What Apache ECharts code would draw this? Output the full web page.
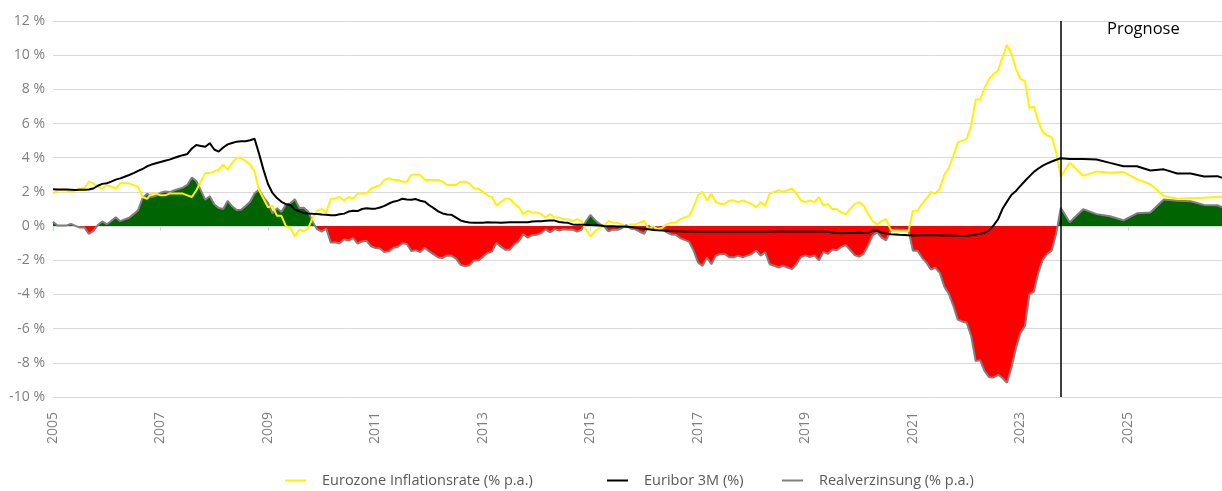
<!DOCTYPE html>
<html>
<head>
<meta charset="utf-8">
<title>Realverzinsung Eurozone</title>
<script src="https://cdn.jsdelivr.net/npm/echarts@6/dist/echarts.min.js"></script>
<style>
  html, body { margin: 0; padding: 0; background: #fff; }
  #chart { width: 1222px; height: 491px; }
</style>
</head>
<body>
<div id="chart"></div>
<script>
// Monate Jan 2005 .. Okt 2026 (ab Nov 2023 Prognose, quartalsweise)
var months = []
for (var y = 2005; y <= 2026; y++) {
  for (var m = 1; m <= 12; m++) {
    if (y === 2026 && m > 10) break
    months.push(y + '-' + (m < 10 ? '0' + m : m))
  }
}

var prognoseStart = '2023-10'

// Eurozone Inflationsrate (% p.a.)
var inflation = [
  1.9, 2.1, 2.1, 2.1, 2.0, 2.1, 2.2, 2.2, 2.6, 2.5, 2.3, 2.2,
  2.4, 2.3, 2.2, 2.5, 2.5, 2.5, 2.4, 2.3, 1.7, 1.6, 1.9, 1.9,
  1.8, 1.8, 1.9, 1.9, 1.9, 1.9, 1.8, 1.7, 2.1, 2.6, 3.1, 3.1,
  3.2, 3.3, 3.6, 3.3, 3.7, 4.0, 4.0, 3.8, 3.6, 3.2, 2.1, 1.6,
  1.1, 1.2, 0.6, 0.6, 0.0, -0.1, -0.6, -0.2, -0.3, -0.1, 0.5, 0.9,
  1.0, 0.8, 1.6, 1.6, 1.7, 1.5, 1.7, 1.6, 1.9, 1.9, 1.9, 2.2,
  2.3, 2.4, 2.7, 2.8, 2.7, 2.7, 2.6, 2.6, 3.0, 3.0, 3.0, 2.7,
  2.7, 2.7, 2.7, 2.6, 2.4, 2.4, 2.4, 2.6, 2.6, 2.5, 2.2, 2.2,
  2.0, 1.8, 1.7, 1.2, 1.4, 1.6, 1.6, 1.3, 1.1, 0.7, 0.9, 0.8,
  0.8, 0.7, 0.5, 0.7, 0.5, 0.5, 0.4, 0.4, 0.3, 0.4, 0.3, -0.2,
  -0.6, -0.3, -0.1, 0.0, 0.3, 0.2, 0.2, 0.1, -0.1, 0.1, 0.1, 0.2,
  0.3, -0.2, 0.0, -0.2, -0.1, 0.1, 0.2, 0.2, 0.4, 0.5, 0.6, 1.1,
  1.8, 2.0, 1.5, 1.9, 1.4, 1.3, 1.3, 1.5, 1.5, 1.4, 1.5, 1.4,
  1.3, 1.1, 1.4, 1.2, 1.9, 2.0, 2.1, 2.0, 2.1, 2.2, 1.9, 1.5,
  1.4, 1.5, 1.4, 1.7, 1.2, 1.3, 1.0, 1.0, 0.8, 0.7, 1.0, 1.3,
  1.4, 1.2, 0.7, 0.3, 0.1, 0.3, 0.4, -0.2, -0.3, -0.3, -0.3, -0.3,
  0.9, 0.9, 1.3, 1.6, 2.0, 1.9, 2.2, 3.0, 3.4, 4.1, 4.9, 5.0,
  5.1, 5.9, 7.4, 7.4, 8.1, 8.6, 8.9, 9.1, 9.9, 10.6, 10.1, 9.2,
  8.6, 8.5, 6.9, 7.0, 6.1, 5.5, 5.3, 5.2, 4.3, 2.9, null, 3.7,
  null, null, 2.94, null, null, 3.2, null, null, 3.12, null, null, 3.16,
  null, null, 2.75, null, null, 2.45, null, null, 1.76, null, null, 1.6,
  null, null, 1.63, null, null, 1.66, null, null, 1.7, 1.71
]

// Euribor 3M (%)
var euribor = [
  2.15, 2.14, 2.14, 2.14, 2.13, 2.11, 2.12, 2.13, 2.14, 2.20, 2.36, 2.47,
  2.51, 2.60, 2.72, 2.79, 2.89, 2.99, 3.10, 3.23, 3.34, 3.50, 3.60, 3.68,
  3.75, 3.82, 3.89, 3.98, 4.07, 4.15, 4.22, 4.54, 4.74, 4.69, 4.64, 4.85,
  4.48, 4.36, 4.60, 4.78, 4.86, 4.94, 4.96, 4.97, 5.02, 5.11, 4.24, 3.29,
  2.46, 1.94, 1.64, 1.42, 1.28, 1.23, 0.97, 0.86, 0.77, 0.74, 0.72, 0.71,
  0.68, 0.66, 0.64, 0.64, 0.69, 0.73, 0.85, 0.90, 0.88, 1.00, 1.04, 1.02,
  1.02, 1.09, 1.18, 1.32, 1.43, 1.49, 1.60, 1.55, 1.54, 1.58, 1.48, 1.43,
  1.22, 1.05, 0.86, 0.74, 0.68, 0.66, 0.50, 0.33, 0.25, 0.21, 0.19, 0.19,
  0.20, 0.22, 0.21, 0.21, 0.20, 0.21, 0.22, 0.23, 0.22, 0.23, 0.22, 0.27,
  0.29, 0.29, 0.31, 0.33, 0.32, 0.24, 0.21, 0.19, 0.10, 0.08, 0.08, 0.08,
  0.06, 0.05, 0.03, 0.00, -0.01, -0.01, -0.02, -0.03, -0.04, -0.05, -0.09, -0.13,
  -0.15, -0.18, -0.23, -0.25, -0.26, -0.27, -0.29, -0.30, -0.30, -0.31, -0.31, -0.32,
  -0.33, -0.33, -0.33, -0.33, -0.33, -0.33, -0.33, -0.33, -0.33, -0.33, -0.33, -0.33,
  -0.33, -0.33, -0.33, -0.33, -0.33, -0.32, -0.32, -0.32, -0.32, -0.32, -0.32, -0.31,
  -0.31, -0.31, -0.31, -0.31, -0.31, -0.33, -0.37, -0.41, -0.42, -0.41, -0.40, -0.40,
  -0.39, -0.41, -0.42, -0.25, -0.27, -0.38, -0.44, -0.48, -0.49, -0.51, -0.52, -0.54,
  -0.55, -0.54, -0.54, -0.54, -0.54, -0.54, -0.54, -0.55, -0.55, -0.55, -0.57, -0.58,
  -0.56, -0.53, -0.50, -0.45, -0.39, -0.24, 0.04, 0.40, 1.01, 1.43, 1.83, 2.06,
  2.35, 2.64, 2.91, 3.17, 3.37, 3.54, 3.67, 3.78, 3.88, 3.97, null, 3.93,
  null, null, 3.93, null, null, 3.9, null, null, 3.7, null, null, 3.5,
  null, null, 3.5, null, null, 3.25, null, null, 3.32, null, null, 3.08,
  null, null, 3.08, null, null, 2.9, null, null, 2.92, 2.82
]

// Realverzinsung (% p.a.)
var realRate = [
  0.25, 0.04, 0.04, 0.04, 0.13, 0.01, -0.08, -0.07, -0.46, -0.30, 0.06, 0.27,
  0.11, 0.30, 0.52, 0.29, 0.39, 0.49, 0.70, 0.93, 1.64, 1.90, 1.70, 1.78,
  1.95, 2.02, 1.99, 2.08, 2.17, 2.25, 2.42, 2.84, 2.64, 2.09, 1.54, 1.75,
  1.28, 1.06, 1.00, 1.48, 1.16, 0.94, 0.96, 1.17, 1.42, 1.91, 2.14, 1.69,
  1.36, 0.74, 1.04, 0.82, 1.28, 1.33, 1.57, 1.06, 1.07, 0.84, 0.22, -0.19,
  -0.32, -0.14, -0.96, -0.96, -1.01, -0.77, -0.85, -0.70, -1.02, -0.90, -0.86, -1.18,
  -1.28, -1.31, -1.52, -1.48, -1.27, -1.21, -1.00, -1.05, -1.46, -1.42, -1.52, -1.27,
  -1.48, -1.65, -1.84, -1.86, -1.72, -1.74, -1.90, -2.27, -2.35, -2.29, -2.01, -2.01,
  -1.80, -1.58, -1.49, -0.99, -1.20, -1.39, -1.38, -1.07, -0.88, -0.47, -0.68, -0.53,
  -0.51, -0.41, -0.19, -0.37, -0.18, -0.26, -0.19, -0.21, -0.20, -0.32, -0.22, 0.28,
  0.66, 0.35, 0.13, 0.00, -0.31, -0.21, -0.22, -0.13, 0.06, -0.15, -0.19, -0.33,
  -0.45, 0.02, -0.23, -0.05, -0.16, -0.37, -0.49, -0.50, -0.70, -0.81, -0.91, -1.42,
  -2.13, -2.33, -1.83, -2.23, -1.73, -1.63, -1.63, -1.83, -1.83, -1.73, -1.83, -1.73,
  -1.63, -1.43, -1.73, -1.53, -2.23, -2.32, -2.42, -2.32, -2.42, -2.52, -2.22, -1.81,
  -1.71, -1.81, -1.71, -2.01, -1.51, -1.63, -1.37, -1.41, -1.22, -1.11, -1.40, -1.70,
  -1.79, -1.61, -1.12, -0.55, -0.37, -0.68, -0.84, -0.28, -0.19, -0.21, -0.22, -0.24,
  -1.45, -1.44, -1.84, -2.14, -2.54, -2.44, -2.74, -3.55, -3.95, -4.65, -5.47, -5.58,
  -5.66, -6.43, -7.90, -7.85, -8.49, -8.84, -8.86, -8.70, -8.89, -9.17, -8.27, -7.14,
  -6.25, -5.86, -3.99, -3.83, -2.73, -1.96, -1.63, -1.42, -0.42, 1.07, null, 0.23,
  null, null, 0.99, null, null, 0.70, null, null, 0.58, null, null, 0.34,
  null, null, 0.75, null, null, 0.80, null, null, 1.56, null, null, 1.48,
  null, null, 1.45, null, null, 1.24, null, null, 1.22, 1.11
]

var yTicks = { min: -10, max: 12, step: 2 }

// Prognosewerte liegen nur quartalsweise vor: leere Monate auslassen
function pairs (values) {
  var out = []
  values.forEach(function (v, i) {
    if (v !== null) out.push([months[i], v])
  })
  return out
}

var fontFamily = '"Open Sans", Lato, sans-serif'
var chart = echarts.init(document.getElementById('chart'))

function legendAt (left, name) {
  return {
    left: left,
    top: 468,
    data: [name],
    icon: 'rect',
    itemWidth: 21,
    itemHeight: 2,
    selectedMode: false,
    textStyle: {
      color: '#595959',
      fontSize: 14.5,
      fontFamily: fontFamily,
      padding: [0, 0, 0, 11]
    }
  }
}

chart.setOption({
  animation: false,
  backgroundColor: '#fff',
  grid: { left: 53, right: 0, top: 21, bottom: 94 },
  legend: [
    legendAt(280, 'Eurozone Inflationsrate (% p.a.)'),
    legendAt(602, 'Euribor 3M (%)'),
    legendAt(777, 'Realverzinsung (% p.a.)')
  ],
  visualMap: {
    show: false,
    type: 'piecewise',
    seriesIndex: 0,
    dimension: 1,
    pieces: [
      { gt: 0, lte: 100, color: '#006400' },
      { gte: -100, lte: 0, color: '#ff0000' }
    ]
  },
  xAxis: {
    type: 'category',
    data: months,
    boundaryGap: false,
    axisLine: { lineStyle: { color: '#d9d9d9' } },
    axisTick: { interval: 23, length: 5, lineStyle: { color: '#d9d9d9' } },
    axisLabel: {
      interval: 23,
      rotate: 90,
      margin: 15,
      color: '#7f7f7f',
      fontSize: 14,
      fontFamily: fontFamily,
      formatter: function (v) { return v.slice(0, 4) }
    },
    splitLine: { show: false }
  },
  yAxis: {
    type: 'value',
    min: yTicks.min,
    max: yTicks.max,
    interval: yTicks.step,
    axisLine: { show: false },
    axisTick: { show: false },
    axisLabel: {
      color: '#7f7f7f',
      fontSize: 14,
      fontFamily: fontFamily,
      margin: 8,
      formatter: '{value} %'
    },
    splitLine: { lineStyle: { color: '#d9d9d9', width: 1 } }
  },
  graphic: [{
    type: 'text',
    left: 1107,
    top: 21,
    style: { text: 'Prognose', fill: '#000', fontSize: 16.5, fontFamily: fontFamily }
  }],
  series: [
    {
      name: 'Realverzinsung Fläche',
      type: 'line',
      data: pairs(realRate),
      showSymbol: false,
      silent: true,
      lineStyle: { width: 0 },
      areaStyle: { opacity: 1 },
      z: 1
    },
    {
      name: 'Realverzinsung (% p.a.)',
      type: 'line',
      data: pairs(realRate),
      showSymbol: false,
      color: '#808080',
      lineStyle: { color: '#808080', width: 2 },
      z: 2
    },
    {
      name: 'Eurozone Inflationsrate (% p.a.)',
      type: 'line',
      data: pairs(inflation),
      showSymbol: false,
      color: '#fff200',
      lineStyle: { color: '#fff200', width: 2 },
      z: 3
    },
    {
      name: 'Euribor 3M (%)',
      type: 'line',
      data: pairs(euribor),
      showSymbol: false,
      color: '#000',
      lineStyle: { color: '#000', width: 2 },
      z: 4,
      markLine: {
        silent: true,
        symbol: 'none',
        label: { show: false },
        lineStyle: { color: '#000', width: 1.5, type: 'solid' },
        data: [{ xAxis: prognoseStart }]
      }
    }
  ]
})
</script>
</body>
</html>
